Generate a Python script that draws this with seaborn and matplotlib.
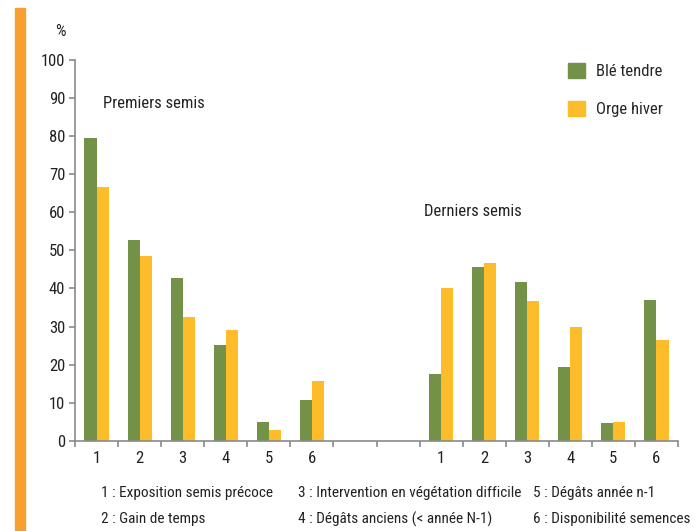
import matplotlib
matplotlib.use("Agg")
import matplotlib.pyplot as plt
import matplotlib.patches as mpatches
import seaborn as sns
import pandas as pd
import numpy as np

# Reasons given, by rank, for each sowing period
reasons = ["1", "2", "3", "4", "5", "6"]
ble_premiers = [79.3, 52.7, 42.8, 25.2, 5.0, 10.8]
orge_premiers = [66.5, 48.4, 32.5, 29.2, 2.8, 15.7]
ble_derniers = [17.5, 45.7, 41.8, 19.4, 4.8, 36.9]
orge_derniers = [40.0, 46.6, 36.7, 29.9, 4.9, 26.6]
series = ["Blé tendre", "Orge hiver"]
colors = ["#739147", "#FDBD2B"]
yticks = [0, 10, 20, 30, 40, 50, 60, 70, 80, 90, 100]
notes = [
    ("1 : Exposition semis précoce", "3 : Intervention en végétation difficile", "5 : Dégâts année n-1"),
    ("2 : Gain de temps", "4 : Dégâts anciens (< année N-1)", "6 : Disponibilité semences"),
]

sns.set_theme(style="white")
plt.rcParams["font.family"] = ["Liberation Sans Narrow", "Roboto Condensed", "Liberation Sans", "DejaVu Sans"]

# Slot order: first period, two empty slots, second period
slots = [f"P{r}" for r in reasons] + ["_a", "_b"] + [f"D{r}" for r in reasons]
rows = []
for r, b, o in zip(reasons, ble_premiers, orge_premiers):
    rows.append((f"P{r}", series[0], b))
    rows.append((f"P{r}", series[1], o))
for r, b, o in zip(reasons, ble_derniers, orge_derniers):
    rows.append((f"D{r}", series[0], b))
    rows.append((f"D{r}", series[1], o))
df = pd.DataFrame(rows, columns=["slot", "culture", "pct"])

fig = plt.figure(figsize=(7.0, 5.31), dpi=100)
ax = fig.add_axes([75 / 700, 90 / 531, 603 / 700, 381.5 / 531])

sns.barplot(data=df, x="slot", y="pct", hue="culture", order=slots,
            hue_order=series, palette=colors, width=0.56, gap=0,
            linewidth=0, saturation=1, legend=False, ax=ax)

ax.set_xlim(-0.5, len(slots) - 0.5)
ax.set_ylim(0, 100)
ax.set_xlabel("")
ax.set_ylabel("")

grey = "#8a8a8a"
for side in ["top", "right"]:
    ax.spines[side].set_visible(False)
for side in ["left", "bottom"]:
    ax.spines[side].set_color(grey)
    ax.spines[side].set_linewidth(1.2)

ax.set_yticks(yticks)
ax.set_yticklabels([str(v) for v in yticks], fontsize=12, color="#222222")
ax.tick_params(axis="y", direction="out", length=4, width=1.2, color=grey, left=True, pad=3)

# Boundary ticks between slots, labels at slot centres
ax.set_xticks(np.arange(-0.5, len(slots), 1.0))
ax.set_xticklabels([])
ax.tick_params(axis="x", which="major", direction="out", length=4, width=1.2, color=grey, bottom=True)
centres = list(range(6)) + list(range(8, 14))
ax.set_xticks(centres, minor=True)
ax.set_xticklabels(reasons + reasons, minor=True, fontsize=12, color="#222222")
ax.tick_params(axis="x", which="minor", length=0, pad=7)

ax.text(0.15, 88.5, "Premiers semis", fontsize=12, color="#222222", va="center")
ax.text(7.6, 60.2, "Derniers semis", fontsize=12, color="#222222", va="center")

# Legend
handles = [mpatches.Patch(color=c, label=s) for c, s in zip(colors, series)]
fig.legend(handles=handles, loc="upper left", bbox_to_anchor=(553 / 700, 1 - 48 / 531),
           frameon=False, fontsize=12, handlelength=1.0, handleheight=1.0,
           labelspacing=1.3, handletextpad=0.7)

fig.text(60 / 700, 1 - 32 / 531, "%", fontsize=12, color="#222222", ha="center", va="center")

# Orange side band
fig.patches.append(mpatches.Rectangle((15 / 700, 0), 10 / 700, 1 - 8 / 531,
                                      transform=fig.transFigure, color="#F7A030", zorder=0))

# Footnote key
col_x = [101, 298, 533]
row_y = [493, 519]
for ry, row in zip(row_y, notes):
    for cx, txt in zip(col_x, row):
        fig.text(cx / 700, 1 - ry / 531, txt, fontsize=11, color="#222222", va="center")

fig.savefig("out.png", dpi=100)
